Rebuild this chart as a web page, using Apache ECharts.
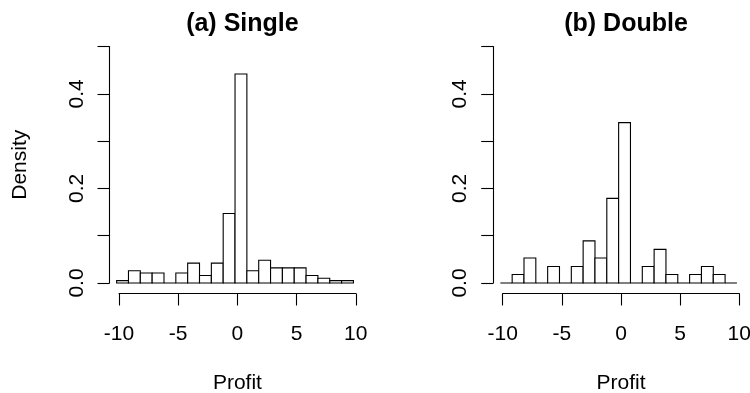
<!DOCTYPE html>
<html><head><meta charset="utf-8">
<script src="https://cdn.jsdelivr.net/npm/echarts@6/dist/echarts.min.js"></script>
<style>html,body{margin:0;padding:0;background:#fff}#c{width:750px;height:393px}</style>
</head><body><div id="c"></div>
<script>
const binEdges = [-10.2,-9.2,-8.2,-7.2,-6.2,-5.2,-4.2,-3.2,-2.2,-1.2,-0.2,0.8,1.8,2.8,3.8,4.8,5.8,6.8,7.8,8.8,9.8];
const singleDensity = [0.005,0.026,0.021,0.021,0,0.021,0.042,0.016,0.042,0.147,0.442,0.026,0.048,0.032,0.032,0.032,0.016,0.010,0.005,0.005];
const doubleDensity = [0,0.018,0.053,0,0.035,0,0.035,0.089,0.053,0.179,0.339,0,0.035,0.071,0.018,0,0.018,0.035,0.018,0];
const xTicks = [-10,-5,0,5,10];
const yTicks = [0,0.1,0.2,0.3,0.4,0.5];
const yLabels = [0,0.2,0.4];
const titles = ['(a) Single','(b) Double'];

const FONT = '"Liberation Sans", Arial, Helvetica, sans-serif';
const chart = echarts.init(document.getElementById('c'), null, {renderer:'canvas'});

const panels = [
  {left:119, width:236.8, yName:'Density'},
  {left:502.7, width:236.6, yName:''}
];
const gridTop = 46.5, gridH = 236.5;

function renderItem(params, api){
  const x0 = api.value(0), x1 = api.value(1), y = api.value(2);
  const p0 = api.coord([x0, y]);
  const p1 = api.coord([x1, 0]);
  return {type:'rect', shape:{x:p0[0], y:p0[1], width:p1[0]-p0[0], height:p1[1]-p0[1]},
    style:{fill:'#fff', stroke:'#000', lineWidth:1.1}};
}

const option = {
  backgroundColor:'#fff',
  animation:false,
  title: panels.map((p,i)=>({text:titles[i], left:p.left+p.width/2, top:7, textAlign:'center',
    textStyle:{fontFamily:FONT, fontWeight:'bold', fontSize:25, color:'#000'}})),
  grid: panels.map(p=>({left:p.left, width:p.width, top:gridTop, height:gridH,
    containLabel:false, outerBoundsMode:'none'})),
  xAxis: panels.map((p,i)=>({type:'value', gridIndex:i, min:-10, max:10, offset:10.5,
    axisLine:{show:true, onZero:false, lineStyle:{color:'#000', width:1.1}},
    axisTick:{show:true, length:12, customValues:xTicks, lineStyle:{color:'#000', width:1.1}},
    axisLabel:{customValues:xTicks, margin:30, color:'#000', fontFamily:FONT, fontSize:21},
    splitLine:{show:false},
    name:'Profit', nameLocation:'middle', nameGap:79,
    nameTextStyle:{fontFamily:FONT, fontSize:21, color:'#000'}})),
  yAxis: panels.map((p,i)=>({type:'value', gridIndex:i, min:0, max:0.5, offset:9.5,
    axisLine:{show:true, onZero:false, lineStyle:{color:'#000', width:1.1}},
    axisTick:{show:true, length:12, customValues:yTicks, lineStyle:{color:'#000', width:1.1}},
    axisLabel:{customValues:yLabels, rotate:90, margin:22, color:'#000', fontFamily:FONT, fontSize:21,
      formatter:v=>v.toFixed(1)},
    splitLine:{show:false},
    name:p.yName, nameLocation:'middle', nameGap:79, nameRotate:90,
    nameTextStyle:{fontFamily:FONT, fontSize:21, color:'#000'}})),
  series: [singleDensity, doubleDensity].map((dens,i)=>({
    type:'custom', xAxisIndex:i, yAxisIndex:i, clip:false,
    renderItem: renderItem,
    data: dens.map((d,k)=>[binEdges[k], binEdges[k+1], d])
  }))
};
chart.setOption(option);
</script></body></html>
